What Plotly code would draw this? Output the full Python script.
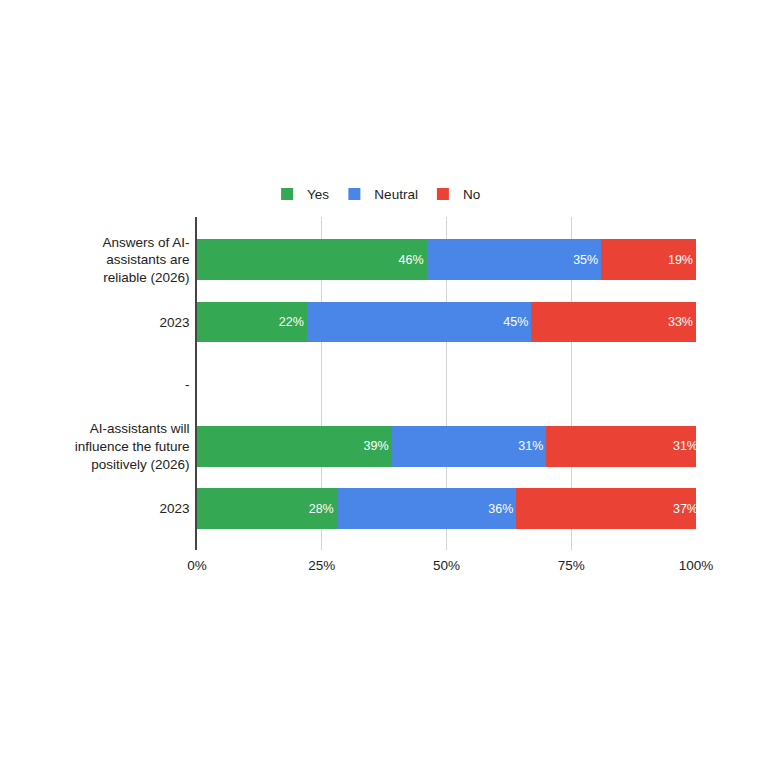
import plotly.graph_objects as go

# ---------------------------------------------------------------------------
# Data (survey answers in %, as labelled on the chart)
# ---------------------------------------------------------------------------
CATEGORIES = [
    "Answers of AI-<br>assistants are<br>reliable (2026)",
    "2023",
    "-",
    "AI-assistants will<br>influence the future<br>positively (2026)",
    "2023",
]
YES = [46, 22, None, 39, 28]
NEUTRAL = [35, 45, None, 31, 36]
NO = [19, 33, None, 31, 37]

SERIES = [
    ("Yes", YES, "#34A853"),
    ("Neutral", NEUTRAL, "#4A86E8"),
    ("No", NO, "#EA4335"),
]

X_TICKS = [0, 25, 50, 75, 100]

# ---------------------------------------------------------------------------
# Figure
# ---------------------------------------------------------------------------
positions = list(range(len(CATEGORIES)))

fig = go.Figure()
for name, values, colour in SERIES:
    fig.add_trace(go.Bar(
        y=positions,
        x=values,
        name=name,
        orientation="h",
        marker=dict(color=colour, line=dict(width=0)),
        width=0.654,
        text=[f"{v}%" if v is not None else "" for v in values],
        textposition="inside",
        insidetextanchor="end",
        textfont=dict(color="white", size=12.5, family="Liberation Sans, Arial"),
        hoverinfo="skip",
    ))

fig.update_layout(
    barmode="stack",
    width=760,
    height=760,
    # margin.autoexpand off so the legend does not push the plot down
    margin=dict(l=189, r=72, t=209, b=218, autoexpand=False),
    plot_bgcolor="white",
    paper_bgcolor="white",
    font=dict(family="Liberation Sans, Arial", size=13, color="#222222"),
    legend=dict(
        orientation="h",
        xref="container",
        x=0.485,
        xanchor="center",
        yref="container",
        y=0.755,
        yanchor="middle",
        font=dict(size=13.5, color="#222222"),
        itemsizing="constant",
        traceorder="normal",
    ),
    xaxis=dict(
        range=[0, 100],
        tickvals=X_TICKS,
        ticktext=[f"{t}%" for t in X_TICKS],
        showgrid=True,
        gridcolor="#d4d4d4",
        gridwidth=1,
        zeroline=False,
        showline=False,
        ticks="",
        ticklen=0,
        ticklabelstandoff=5,
        tickfont=dict(size=13.5, color="#222222"),
        fixedrange=True,
    ),
    yaxis=dict(
        range=[4.667, -0.686],
        tickvals=positions,
        ticktext=CATEGORIES,
        showgrid=False,
        zeroline=False,
        showline=True,
        linecolor="#444444",
        linewidth=1.5,
        ticks="",
        ticklabelstandoff=3,
        tickfont=dict(size=13.5, color="#222222"),
        fixedrange=True,
    ),
)

fig.write_html("out.html")
